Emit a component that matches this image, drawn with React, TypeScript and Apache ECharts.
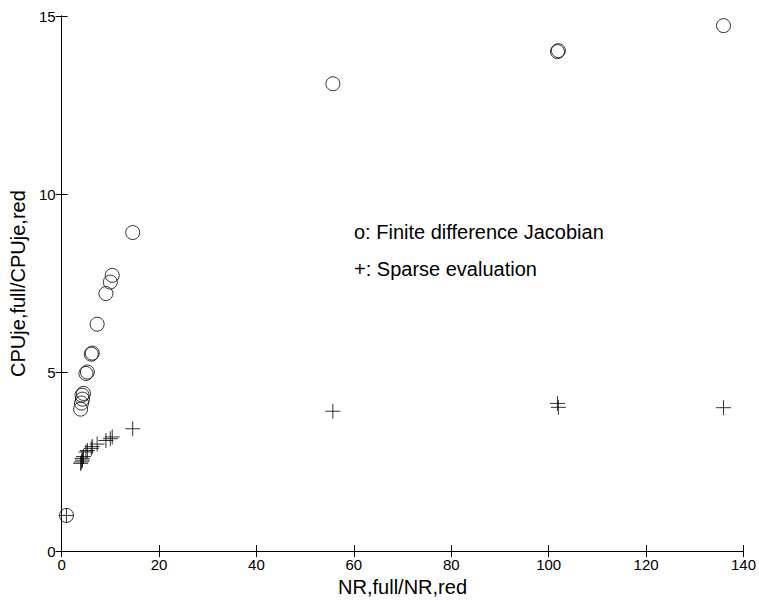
import React, { useEffect, useRef } from "react";
import * as echarts from "echarts";

const fdX = [1.0, 3.9, 4.1, 4.3, 4.2, 4.5, 5.0, 5.3, 6.1, 6.3, 7.3, 9.1, 10.0, 10.4, 14.6, 55.7, 101.8, 102.0, 135.9];
const fdY = [1.0, 3.98, 4.15, 4.26, 4.37, 4.42, 4.98, 5.02, 5.52, 5.55, 6.36, 7.22, 7.54, 7.73, 8.93, 13.1, 14.0, 14.03, 14.73];
const spX = [1.0, 3.9, 4.1, 4.3, 4.2, 4.5, 5.0, 5.3, 6.1, 6.3, 7.3, 9.1, 10.0, 10.4, 14.6, 55.7, 101.8, 102.0, 135.9];
const spY = [1.0, 2.46, 2.5, 2.55, 2.6, 2.65, 2.78, 2.82, 2.88, 2.93, 3.0, 3.1, 3.15, 3.2, 3.43, 3.92, 4.14, 4.03, 4.02];

const xName = "NR,full/NR,red";
const yName = "CPUje,full/CPUje,red";
const noteFD = "o: Finite difference Jacobian";
const noteSp = "+: Sparse evaluation";

const FONT = "'Liberation Sans', Arial, Helvetica, sans-serif";

export default function App() {
  const ref = useRef<HTMLDivElement>(null);
  useEffect(() => {
    if (!ref.current) return;
    const chart = echarts.init(ref.current, undefined, { renderer: "svg" });
    const axisLine = { show: true, lineStyle: { color: "#000", width: 1 } };
    const axisTick = { show: true, inside: true, length: 6, lineStyle: { color: "#000", width: 1 } };
    chart.setOption({
      animation: false,
      backgroundColor: "#fff",
      textStyle: { fontFamily: FONT },
      grid: { left: 60, right: 13, top: 16, bottom: 45, containLabel: false },
      xAxis: [
        {
          type: "value", min: 0, max: 140, interval: 20, position: "bottom",
          axisLine, axisTick, splitLine: { show: false },
          axisLabel: { color: "#000", fontSize: 15, margin: 6, fontFamily: FONT },
          name: xName, nameLocation: "middle", nameGap: 25,
          nameTextStyle: { color: "#000", fontSize: 20, fontFamily: FONT },
        },
        {
          type: "value", min: 0, max: 140, interval: 20, position: "top",
          axisLine, axisTick, splitLine: { show: false }, axisLabel: { show: false },
        },
      ],
      yAxis: [
        {
          type: "value", min: 0, max: 15, interval: 5, position: "left",
          axisLine, axisTick, splitLine: { show: false },
          axisLabel: { color: "#000", fontSize: 15, margin: 6, fontFamily: FONT },
          name: yName, nameLocation: "middle", nameGap: 30, nameRotate: 90,
          nameTextStyle: { color: "#000", fontSize: 20, fontFamily: FONT },
        },
        {
          type: "value", min: 0, max: 15, interval: 5, position: "right",
          axisLine, axisTick, splitLine: { show: false }, axisLabel: { show: false },
        },
      ],
      series: [
        {
          type: "scatter",
          data: fdX.map((x, i) => [x, fdY[i]]),
          symbol: "circle",
          symbolSize: 14,
          itemStyle: { color: "rgba(0,0,0,0)", borderColor: "#000", borderWidth: 1 },
        },
        {
          type: "scatter",
          data: spX.map((x, i) => [x, spY[i]]),
          symbol: "path://M7.5,0L7.5,15M0,7.5L15,7.5",
          symbolSize: 15,
          itemStyle: { color: "rgba(0,0,0,0)", borderColor: "#000", borderWidth: 1 },
        },
      ],
      graphic: [
        { type: "text", left: 354, top: 222, style: { text: noteFD, fill: "#000", font: `20px ${FONT}` } },
        { type: "text", left: 354, top: 259, style: { text: noteSp, fill: "#000", font: `20px ${FONT}` } },
      ],
    });
    return () => chart.dispose();
  }, []);
  return <div ref={ref} style={{ position: "absolute", left: 0, top: 0, width: 759, height: 602 }} />;
}
